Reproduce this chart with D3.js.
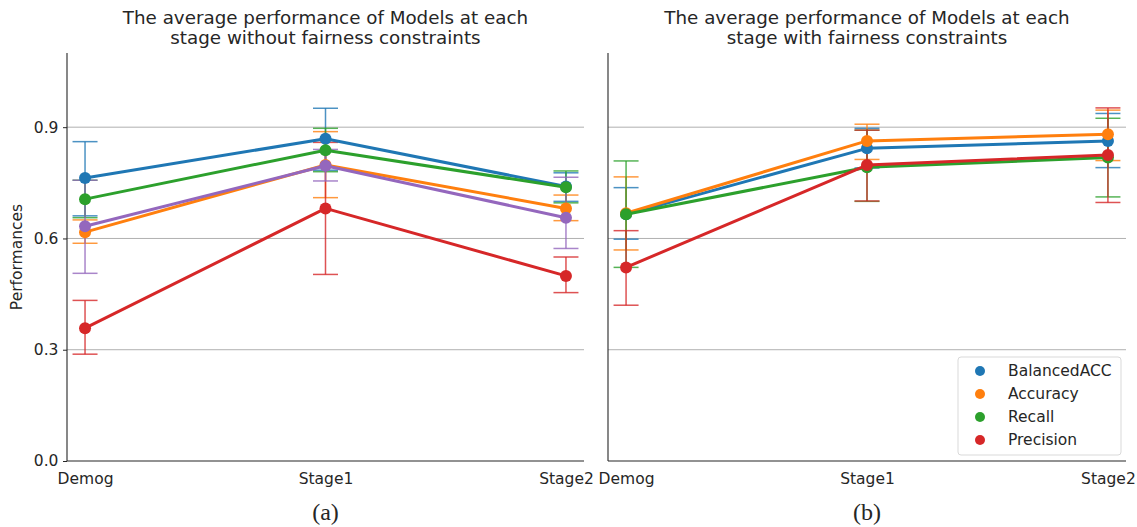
<!DOCTYPE html>
<html>
<head>
<meta charset="utf-8">
<script src="https://cdn.jsdelivr.net/npm/d3@7"></script>
<style>
  html, body { margin: 0; padding: 0; background: #fff; }
  svg { display: block; }
  text { font-family: "DejaVu Sans", sans-serif; fill: #262626; }
</style>
</head>
<body>
<svg id="chart" width="1137" height="527"></svg>
<script>
// Stages on the x axis
const stages = ["Demog", "Stage1", "Stage2"];
const yTicks = [0.0, 0.3, 0.6, 0.9];

const seriesNames = ["BalancedACC", "Accuracy", "Recall", "Precision", "Other"];
const seriesColors = ["#1f77b4", "#ff7f0e", "#2ca02c", "#d62728", "#9467bd"];

// Panel (a): without fairness constraints — mean, lower and upper error bounds
const noFairMean = {
  BalancedACC: [0.763, 0.869, 0.740],
  Accuracy:    [0.617, 0.798, 0.681],
  Recall:      [0.706, 0.838, 0.738],
  Precision:   [0.358, 0.681, 0.499],
  Other:       [0.633, 0.796, 0.656]
};
const noFairLow = {
  BalancedACC: [0.661, 0.784, 0.700],
  Accuracy:    [0.587, 0.710, 0.648],
  Recall:      [0.656, 0.780, 0.696],
  Precision:   [0.288, 0.503, 0.454],
  Other:       [0.506, 0.755, 0.573]
};
const noFairHigh = {
  BalancedACC: [0.861, 0.951, 0.777],
  Accuracy:    [0.650, 0.888, 0.717],
  Recall:      [0.757, 0.897, 0.782],
  Precision:   [0.433, 0.859, 0.550],
  Other:       [0.757, 0.840, 0.765]
};

// Panel (b): with fairness constraints
const fairMean = {
  BalancedACC: [0.665, 0.843, 0.863],
  Accuracy:    [0.668, 0.863, 0.881],
  Recall:      [0.665, 0.792, 0.818],
  Precision:   [0.522, 0.798, 0.825]
};
const fairLow = {
  BalancedACC: [0.598, 0.790, 0.791],
  Accuracy:    [0.569, 0.813, 0.810],
  Recall:      [0.522, 0.700, 0.712],
  Precision:   [0.420, 0.701, 0.697]
};
const fairHigh = {
  BalancedACC: [0.737, 0.897, 0.937],
  Accuracy:    [0.766, 0.908, 0.946],
  Recall:      [0.809, 0.892, 0.924],
  Precision:   [0.621, 0.892, 0.952]
};

const svg = d3.select("#chart");
const plotTop = 53, plotBottom = 461;
const y = d3.scaleLinear().domain([0, 1.1]).range([plotBottom, plotTop]);
const labelSize = 15.5;

const panels = [
  {
    left: 67, right: 584,
    title: ["The average performance of Models at each", "stage without fairness constraints"],
    caption: "(a)", mean: noFairMean, low: noFairLow, high: noFairHigh,
    yLabels: true, legend: false
  },
  {
    left: 608, right: 1126,
    title: ["The average performance of Models at each", "stage with fairness constraints"],
    caption: "(b)", mean: fairMean, low: fairLow, high: fairHigh,
    yLabels: false, legend: true
  }
];

panels.forEach(p => {
  const x = d3.scaleLinear().domain([-0.075, 2.075]).range([p.left, p.right]);
  const g = svg.append("g");
  const names = seriesNames.filter(n => n in p.mean);

  // horizontal grid lines
  g.append("g").selectAll("line").data(yTicks.filter(t => t > 0)).join("line")
    .attr("x1", p.left).attr("x2", p.right)
    .attr("y1", d => y(d)).attr("y2", d => y(d))
    .attr("stroke", "#b0b0b0").attr("stroke-width", 1);

  // error bars with caps
  const capHalf = 12.5;
  names.forEach(n => {
    const c = seriesColors[seriesNames.indexOf(n)];
    const eg = g.append("g").attr("stroke", c).attr("stroke-width", 1.5).attr("stroke-opacity", 0.8);
    stages.forEach((s, i) => {
      const cx = x(i);
      eg.append("line").attr("x1", cx).attr("x2", cx)
        .attr("y1", y(p.low[n][i])).attr("y2", y(p.high[n][i]));
      [p.low[n][i], p.high[n][i]].forEach(v => {
        eg.append("line").attr("x1", cx - capHalf).attr("x2", cx + capHalf)
          .attr("y1", y(v)).attr("y2", y(v));
      });
    });
  });

  // lines and points per series
  const line = d3.line().x((d, i) => x(i)).y(d => y(d));
  names.forEach(n => {
    const c = seriesColors[seriesNames.indexOf(n)];
    g.append("path").datum(p.mean[n]).attr("d", line)
      .attr("fill", "none").attr("stroke", c).attr("stroke-width", 3)
      .attr("stroke-linejoin", "round").attr("stroke-linecap", "round");
    g.append("g").selectAll("circle").data(p.mean[n]).join("circle")
      .attr("cx", (d, i) => x(i)).attr("cy", d => y(d)).attr("r", 6)
      .attr("fill", c);
  });

  // y axis
  const yAxis = d3.axisLeft(y).tickValues(yTicks).tickSize(p.yLabels ? 4 : 0)
    .tickFormat(p.yLabels ? d3.format(".1f") : () => "");
  const ya = g.append("g").attr("transform", `translate(${p.left},0)`).call(yAxis);
  ya.select(".domain").attr("stroke", "#262626").attr("stroke-width", 1.1)
    .attr("d", `M0,${plotTop}V${plotBottom}`);
  ya.selectAll(".tick line").attr("stroke", "#262626");
  ya.selectAll(".tick text").attr("font-size", labelSize).attr("font-family", "DejaVu Sans, sans-serif")
    .attr("fill", "#262626").attr("dx", "-0.1em");

  // x axis
  const xAxis = d3.axisBottom(x).tickValues([0, 1, 2]).tickSize(0)
    .tickFormat(i => stages[i]);
  const xa = g.append("g").attr("transform", `translate(0,${plotBottom})`).call(xAxis);
  xa.select(".domain").attr("stroke", "#262626").attr("stroke-width", 1.1)
    .attr("d", `M${p.left},0H${p.right}`);
  xa.selectAll(".tick text").attr("font-size", labelSize).attr("font-family", "DejaVu Sans, sans-serif")
    .attr("fill", "#262626").attr("y", 8).attr("dy", "0.95em");

  // title
  const cxMid = (p.left + p.right) / 2;
  g.append("text").attr("x", cxMid).attr("y", 24).attr("text-anchor", "middle")
    .attr("font-size", 18.3).text(p.title[0]);
  g.append("text").attr("x", cxMid).attr("y", 44).attr("text-anchor", "middle")
    .attr("font-size", 18.3).text(p.title[1]);

  // caption
  g.append("text").attr("x", cxMid).attr("y", 520).attr("text-anchor", "middle")
    .attr("font-size", 24).style("font-family", "'Liberation Serif', serif").attr("fill", "#000")
    .text(p.caption);

  // legend
  if (p.legend) {
    const lg = g.append("g").attr("transform", "translate(958,357)");
    lg.append("rect").attr("width", 163).attr("height", 98).attr("rx", 3)
      .attr("fill", "#fff").attr("fill-opacity", 0.8).attr("stroke", "#d9d9d9");
    names.forEach((n, i) => {
      const c = seriesColors[seriesNames.indexOf(n)];
      lg.append("circle").attr("cx", 22).attr("cy", 14 + i * 23).attr("r", 5).attr("fill", c);
      lg.append("text").attr("x", 50).attr("y", 14 + i * 23).attr("dy", "0.35em")
        .attr("font-size", labelSize).text(n);
    });
  }
});

// shared y label
svg.append("text").attr("transform", "translate(22,257) rotate(-90)")
  .attr("text-anchor", "middle").attr("font-size", labelSize).text("Performances");
</script>
</body>
</html>
